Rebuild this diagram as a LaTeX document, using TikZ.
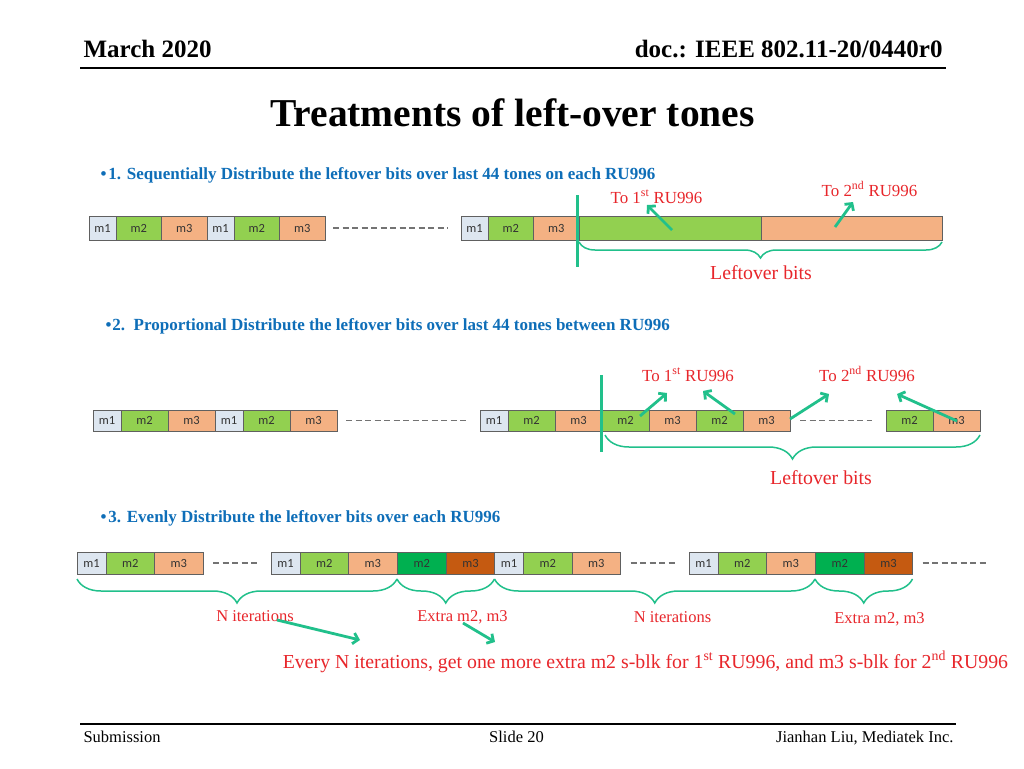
\documentclass[tikz,border=0pt]{standalone}
\usepackage{fontspec}
\setmainfont{Liberation Serif}
\newfontfamily\cellfont{Carlito}
\usetikzlibrary{positioning,arrows.meta,decorations.pathreplacing}

\definecolor{cellone}{HTML}{DDE6F0}
\definecolor{celltwo}{HTML}{92D050}
\definecolor{cellthree}{HTML}{F4B183}
\definecolor{cellfour}{HTML}{00B050}
\definecolor{cellfive}{HTML}{C55A11}
\definecolor{celledge}{HTML}{606060}
\definecolor{tealmark}{HTML}{21C08B}
\definecolor{redtxt}{HTML}{E8262B}
\definecolor{bluetxt}{HTML}{0E6EB8}

\begin{document}
\begin{tikzpicture}[x=1pt,y=-1pt,
	cell/.style={draw=celledge, line width=0.7pt, outer sep=0pt, inner sep=0pt, minimum height=21pt, text=black!80, font=\cellfont\fontsize{12.5}{13}\selectfont},
	mone/.style={cell, fill=cellone, minimum width=28pt},
	mtwo/.style={cell, fill=celltwo, minimum width=47pt},
	mthree/.style={cell, fill=cellthree, minimum width=47pt},
	xtwo/.style={cell, fill=cellfour, minimum width=49.5pt},
	xthree/.style={cell, fill=cellfive, minimum width=48pt},
	gapline/.style={draw=gray!90!black, line width=1.5pt, dash pattern=on 6pt off 3.5pt},
	cutline/.style={draw=tealmark, line width=3pt},
	pointer/.style={draw=tealmark, line width=2.8pt, -{Straight Barb[length=5pt,width=11pt]}},
	brc/.style={draw=tealmark, line width=1.5pt, decorate, decoration={brace, mirror, amplitude=#1}},
	heading/.style={anchor=base west, text=bluetxt, font=\bfseries\fontsize{17}{20}\selectfont},
	redlbl/.style={anchor=base, text=redtxt, font=\fontsize{16.9}{19}\selectfont},
	bigred/.style={anchor=base, text=redtxt, font=\fontsize{19.8}{22}\selectfont}
	]
	
	\fill[white] (0,0) rectangle (1024,768);
	\useasboundingbox (0,0) rectangle (1024,768);
	
	% Slide header and footer
	\node[anchor=base west, font=\bfseries\fontsize{25}{28}\selectfont] (date) at (80,58) {March 2020};
	\node[anchor=base east, font=\bfseries\fontsize{25}{28}\selectfont] (docid) at (946,58) {doc.: IEEE 802.11-20/0440r0};
	\draw[line width=2pt] (80,68) -- (946,68);
	\node[anchor=base, font=\bfseries\fontsize{39.5}{42}\selectfont] (title) at (512.5,126) {Treatments of left-over tones};
	\draw[line width=1.5pt] (80,724) -- (956,724);
	\node[anchor=base west, font=\fontsize{16.5}{18}\selectfont] (sub) at (80,742) {Submission};
	\node[anchor=base, font=\fontsize{16.5}{18}\selectfont] (slide) at (516.5,742) {Slide 20};
	\node[anchor=base east, font=\fontsize{16.5}{18}\selectfont] (auth) at (957,742) {Jianhan Liu, Mediatek Inc.};
	
	% Option 1
	\node[heading] (h1) at (97,179) {\textbullet\kern2pt 1. Sequentially Distribute the leftover bits over last 44 tones on each RU996};
	\begin{scope}[cell/.append style={minimum height=24pt}, mone/.append style={minimum width=27pt}, mtwo/.append style={minimum width=45.5pt}, mthree/.append style={minimum width=45.5pt}]
		\node[mone, anchor=west] (a1) at (89,228) {m1};
		\node[mtwo, right=0pt of a1] (a2) {m2};
		\node[mthree, right=0pt of a2] (a3) {m3};
		\node[mone, right=0pt of a3] (a4) {m1};
		\node[mtwo, right=0pt of a4] (a5) {m2};
		\node[mthree, right=0pt of a5] (a6) {m3};
		\node[mone, anchor=west] (a7) at (461,228) {m1};
		\node[mtwo, right=0pt of a7] (a8) {m2};
		\node[mthree, right=0pt of a8] (a9) {m3};
		\node[cell, fill=celltwo, minimum width=182pt, right=0pt of a9] (a10) {};
		\node[cell, fill=cellthree, minimum width=181pt, right=0pt of a10] (a11) {};
	\end{scope}
	\draw[gapline] ([xshift=8pt]a6.east) -- ([xshift=-13pt]a7.west);
	\draw[cutline] (577,195) -- (577,267);
	\draw[brc=16pt] ([yshift=-2pt]a10.south west) -- ([yshift=-2pt]a11.south east);
	\node[redlbl] (t1a) at (656.5,203) {To 1\textsuperscript{st} RU996};
	\node[redlbl] (t1b) at (869.5,196) {To 2\textsuperscript{nd} RU996};
	\node[bigred] (left1) at (761,279) {Leftover bits};
	\coordinate (p1s) at (672,230); \coordinate (p1e) at (647,205);
	\coordinate (p2s) at (835,227); \coordinate (p2e) at (853,202);
	\draw[pointer] (p1s) -- (p1e);
	\draw[pointer] (p2s) -- (p2e);
	
	% Option 2
	\node[heading] (h2) at (102,330) {\textbullet\kern1pt 2.\ \ Proportional Distribute the leftover bits over last 44 tones between RU996};
	\node[mone, anchor=west] (b1) at (93,420.5) {m1};
	\node[mtwo, right=0pt of b1] (b2) {m2};
	\node[mthree, right=0pt of b2] (b3) {m3};
	\node[mone, right=0pt of b3] (b4) {m1};
	\node[mtwo, right=0pt of b4] (b5) {m2};
	\node[mthree, right=0pt of b5] (b6) {m3};
	\node[mone, anchor=west] (b7) at (480,420.5) {m1};
	\node[mtwo, right=0pt of b7] (b8) {m2};
	\node[mthree, right=0pt of b8] (b9) {m3};
	\node[mtwo, right=0pt of b9] (b10) {m2};
	\node[mthree, right=0pt of b10] (b11) {m3};
	\node[mtwo, right=0pt of b11] (b12) {m2};
	\node[mthree, right=0pt of b12] (b13) {m3};
	\node[mtwo, anchor=west] (b14) at (886,420.5) {m2};
	\node[mthree, right=0pt of b14] (b15) {m3};
	\draw[gapline] ([xshift=9pt]b6.east) -- ([xshift=-12pt]b7.west);
	\draw[gapline] ([xshift=10pt]b13.east) -- ([xshift=-14pt]b14.west);
	\draw[cutline] (601,375) -- (601,452);
	\draw[brc=24pt] ([xshift=3pt,yshift=-4pt]b10.south west) -- ([yshift=-4pt]b15.south east);
	\node[redlbl] (t2a) at (688,381) {To 1\textsuperscript{st} RU996};
	\node[redlbl] (t2b) at (867,381) {To 2\textsuperscript{nd} RU996};
	\node[bigred] (left2) at (821,484) {Leftover bits};
	\coordinate (q1s) at (640,416); \coordinate (q1e) at (667,393);
	\coordinate (q2s) at (735,414); \coordinate (q2e) at (703,391);
	\coordinate (q3s) at (790,419); \coordinate (q3e) at (829,394);
	\coordinate (q4s) at (957,421); \coordinate (q4e) at (897,394);
	\draw[pointer] (q1s) -- (q1e);
	\draw[pointer] (q2s) -- (q2e);
	\draw[pointer] (q3s) -- (q3e);
	\draw[pointer] (q4s) -- (q4e);
	
	% Option 3
	\node[heading] (h3) at (97,522) {\textbullet\kern2pt 3. Evenly Distribute the leftover bits over each RU996};
	\begin{scope}[cell/.append style={minimum height=22pt}, mone/.append style={minimum width=29pt}, mtwo/.append style={minimum width=48.5pt}, mthree/.append style={minimum width=48.5pt}]
		\node[mone, anchor=west] (c1) at (77,563) {m1};
		\node[mtwo, right=0pt of c1] (c2) {m2};
		\node[mthree, right=0pt of c2] (c3) {m3};
		\node[mone, anchor=west] (c4) at (271,563) {m1};
		\node[mtwo, right=0pt of c4] (c5) {m2};
		\node[mthree, right=0pt of c5] (c6) {m3};
		\node[xtwo, right=0pt of c6] (c7) {m2};
		\node[xthree, right=0pt of c7] (c8) {m3};
		\node[mone, right=0pt of c8] (c9) {m1};
		\node[mtwo, right=0pt of c9] (c10) {m2};
		\node[mthree, right=0pt of c10] (c11) {m3};
		\node[mone, anchor=west] (c12) at (689,563) {m1};
		\node[mtwo, right=0pt of c12] (c13) {m2};
		\node[mthree, right=0pt of c13] (c14) {m3};
		\node[xtwo, right=0pt of c14] (c15) {m2};
		\node[xthree, right=0pt of c15] (c16) {m3};
	\end{scope}
	\coordinate (tailend) at (988,563);
	\draw[gapline] ([xshift=10pt]c3.east) -- ([xshift=-13pt]c4.west);
	\draw[gapline] ([xshift=10pt]c11.east) -- ([xshift=-12pt]c12.west);
	\draw[gapline] ([xshift=10pt]c16.east) -- (tailend);
	\draw[brc=24pt] ([yshift=-5pt]c1.south west) -- ([yshift=-5pt]c6.south east);
	\draw[brc=24pt] ([yshift=-5pt]c7.south west) -- ([yshift=-5pt]c8.south east);
	\draw[brc=24pt] ([yshift=-5pt]c9.south west) -- ([yshift=-5pt]c14.south east);
	\draw[brc=24pt] ([yshift=-5pt]c15.south west) -- ([yshift=-5pt]c16.south east);
	\node[redlbl, font=\fontsize{16.5}{18}\selectfont] (n1) at (255,621) {N iterations};
	\node[redlbl, font=\fontsize{16.5}{18}\selectfont] (e1) at (462.5,621) {Extra m2, m3};
	\node[redlbl, font=\fontsize{16.5}{18}\selectfont] (n2) at (672.5,622) {N iterations};
	\node[redlbl, font=\fontsize{16.5}{18}\selectfont] (e2) at (879.5,623) {Extra m2, m3};
	\node[bigred] (every) at (645.5,668) {Every N iterations, get one more extra m2 s-blk for 1\textsuperscript{st} RU996, and m3 s-blk for 2\textsuperscript{nd} RU996};
	\coordinate (r1s) at (277,620); \coordinate (r1e) at (360,640);
	\coordinate (r2s) at (463,623); \coordinate (r2e) at (495,642);
	\draw[pointer] (r1s) -- (r1e);
	\draw[pointer] (r2s) -- (r2e);
	
\end{tikzpicture}
\end{document}
